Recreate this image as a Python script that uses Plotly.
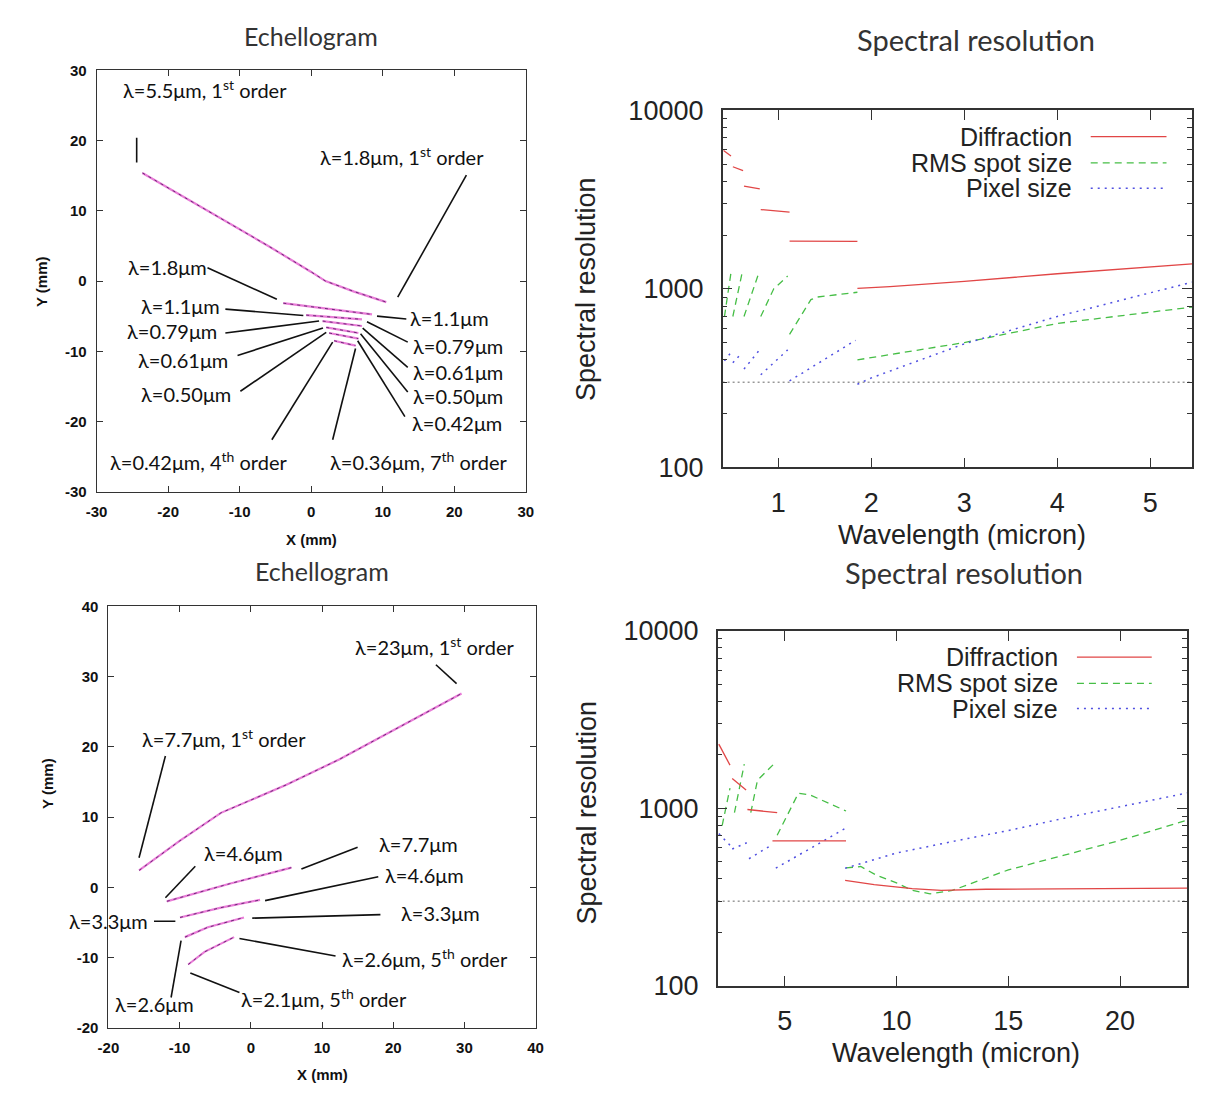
import plotly.graph_objects as go

W, H = 1206, 1103

# ---------------- Echellogram, 0.36-5.5 um channel (mm on detector) ----------------
tl_ticks = [-30, -20, -10, 0, 10, 20, 30]
tl_orders_x = [
    [-23.6, -15.0, -6.0, 0.0, 2.0, 6.0, 10.5],   # 1st order
    [-3.9, 2.3, 8.5],                            # 2nd order
    [-0.7, 3.2, 7.1],                            # 3rd order
    [1.6, 4.4, 7.1],                             # 4th order
    [2.1, 4.4, 6.6],                             # 5th order
    [2.5, 4.6, 6.6],                             # 6th order
    [3.2, 4.7, 6.2],                             # 7th order
]
tl_orders_y = [
    [15.4, 10.3, 5.0, 1.3, 0.0, -1.5, -3.0],
    [-3.15, -3.95, -4.75],
    [-4.85, -5.15, -5.45],
    [-5.7, -6.05, -6.4],
    [-6.6, -7.0, -7.4],
    [-7.4, -7.8, -8.2],
    [-8.5, -8.85, -9.2],
]

# callout labels: text, x, y, anchor
tl_label_text = ["λ=5.5μm, 1<sup>st</sup> order", "λ=1.8μm, 1<sup>st</sup> order",
                 "λ=1.8μm", "λ=1.1μm", "λ=0.79μm", "λ=0.61μm", "λ=0.50μm",
                 "λ=0.42μm, 4<sup>th</sup> order",
                 "λ=1.1μm", "λ=0.79μm", "λ=0.61μm", "λ=0.50μm", "λ=0.42μm",
                 "λ=0.36μm, 7<sup>th</sup> order"]
tl_label_x = [-14.9, 12.7, -14.3, -12.5, -12.9, -11.3, -10.9, -15.7,
              13.6, 14.0, 14.0, 14.0, 13.8, 15.1]
tl_label_y = [27.4, 17.8, 2.0, -3.6, -7.1, -11.2, -16.1, -25.6,
              -5.3, -9.2, -13.0, -16.4, -20.2, -25.6]
tl_label_anchor = ["center", "center", "right", "right", "right", "right", "right", "center",
                   "left", "left", "left", "left", "left", "center"]
# leader lines: (x0, y0, x1, y1)
tl_leaders = [
    (-24.4, 20.4, -24.4, 16.9), (21.7, 15.1, 12.1, -2.3),
    (-14.5, 1.9, -4.8, -2.6), (-12.0, -4.0, -1.1, -4.9), (-12.0, -7.4, 1.1, -5.7),
    (-10.3, -10.6, 1.65, -6.7), (-9.9, -15.7, 2.1, -7.3), (-5.5, -22.6, 3.0, -8.7),
    (9.2, -5.0, 13.3, -5.4), (7.8, -5.8, 13.5, -8.7), (7.2, -6.7, 13.5, -12.3),
    (6.9, -7.5, 13.5, -15.8), (6.5, -8.5, 13.1, -19.3), (6.2, -9.6, 3.0, -22.6),
]

# ---------------- Echellogram, 2.1-23 um channel ----------------
bl_ticks_x = [-20, -10, 0, 10, 20, 30, 40]
bl_ticks_y = [-20, -10, 0, 10, 20, 30, 40]
bl_orders_x = [
    [-15.7, -10.0, -4.2, 5.0, 12.4, 20.0, 29.6],
    [-11.8, -3.0, 5.7],
    [-9.95, -4.2, 1.3],
    [-9.26, -6.04, -0.96],
    [-8.8, -6.5, -2.35],
]
bl_orders_y = [
    [2.4, 6.6, 10.6, 14.6, 18.2, 22.4, 27.6],
    [-2.0, 0.5, 2.8],
    [-4.3, -2.9, -1.8],
    [-7.1, -5.7, -4.3],
    [-11.0, -9.2, -7.1],
]
bl_label_text = ["λ=23μm, 1<sup>st</sup> order", "λ=7.7μm, 1<sup>st</sup> order",
                 "λ=4.6μm", "λ=7.7μm", "λ=4.6μm", "λ=3.3μm", "λ=3.3μm",
                 "λ=2.6μm, 5<sup>th</sup> order", "λ=2.1μm, 5<sup>th</sup> order", "λ=2.6μm"]
bl_label_x = [25.8, -3.7, -1.1, 23.5, 24.4, -19.95, 26.7, 24.4, 10.3, -13.5]
bl_label_y = [34.4, 21.3, 4.85, 6.2, 1.8, -4.85, -3.6, -10.1, -15.7, -16.6]
bl_leaders = [
    (26.0, 31.7, 28.9, 29.0), (-12.0, 18.7, -15.7, 4.2), (-7.8, 3.0, -12.0, -1.5),
    (7.1, 2.6, 15.0, 5.7), (2.0, -1.9, 17.9, 1.5), (-13.6, -4.85, -10.6, -4.85),
    (0.2, -4.4, 18.2, -3.9), (-1.6, -7.3, 11.9, -9.8), (-8.5, -12.2, -1.6, -15.0),
    (-9.8, -7.6, -11.2, -15.7),
]

# ---------------- Spectral resolution, 0.4-5.5 um ----------------
tr_diff_wl = [[0.41, 0.49], [0.51, 0.62], [0.63, 0.80], [0.81, 1.12], [1.12, 1.85],
              [1.85, 2.2, 3.0, 4.0, 5.45]]
tr_diff_R = [[5950, 5550], [4830, 4590], [3760, 3630], [2780, 2690], [1850, 1845],
             [1005, 1030, 1100, 1215, 1380]]
tr_rms_wl = [[0.42, 0.49], [0.51, 0.61], [0.63, 0.79], [0.81, 0.95, 1.10],
             [1.12, 1.35, 1.42, 1.85], [1.85, 3.0, 4.0, 5.45]]
tr_rms_R = [[700, 1230], [700, 1230], [700, 1230], [700, 1000, 1180],
            [556, 870, 900, 957], [400, 500, 640, 790]]
tr_pix_wl = [[0.42, 0.49], [0.51, 0.61], [0.63, 0.79], [0.81, 1.10], [1.12, 1.83],
             [1.85, 2.0, 3.0, 4.0, 5.45]]
tr_pix_R = [[395, 440], [385, 440], [355, 450], [330, 455], [305, 515],
            [292, 317, 492, 700, 1090]]

# ---------------- Spectral resolution, 2-23 um ----------------
br_diff_wl = [[2.05, 2.3, 2.55], [2.65, 3.27], [3.33, 4.66], [4.45, 7.74],
              [7.7, 9.0, 10.7, 12.0, 14.0, 23.0]]
br_diff_R = [[2300, 2000, 1750], [1470, 1270], [985, 945], [655, 655],
             [393, 372, 353, 345, 350, 355]]
br_rms_wl = [[2.2, 2.55], [2.75, 3.19], [3.48, 3.78, 4.51], [4.66, 5.61, 6.13, 7.74],
             [7.74, 8.4, 9.1, 10.0, 10.7, 11.5, 12.5, 13.5, 15.0, 17.5, 20.0, 22.9]]
br_rms_R = [[800, 1300], [945, 1775], [945, 1440, 1775], [705, 1216, 1190, 966],
            [462, 470, 420, 380, 345, 330, 345, 385, 450, 545, 660, 850]]
br_pix_wl = [[2.05, 2.55], [2.65, 3.3], [3.4, 4.4], [4.6, 7.7],
             [7.7, 10.0, 12.5, 15.0, 17.5, 20.0, 23.0]]
br_pix_R = [[720, 620], [590, 640], [520, 620], [460, 770],
            [460, 560, 650, 750, 880, 1020, 1220]]

R_LIMIT = 300
legend_names = ["Diffraction", "RMS spot size", "Pixel size"]

RED = "rgb(225,70,70)"
GREEN = "rgb(70,190,70)"
BLUE = "rgb(80,80,225)"
PINK = "rgb(232,125,215)"
PURPLE = "rgb(110,40,120)"


def join(segs):
    out = []
    for i, s in enumerate(segs):
        if i:
            out.append(None)
        out.extend(s)
    return out


def fx(px):
    return px / W


def fy(py):
    return 1 - py / H


fig = go.Figure()

# ---- echellogram traces ----
for xs, ys, ax in [(tl_orders_x, tl_orders_y, ("x", "y")), (bl_orders_x, bl_orders_y, ("x3", "y3"))]:
    fig.add_trace(go.Scatter(x=join(xs), y=join(ys), mode="lines", xaxis=ax[0], yaxis=ax[1],
                             line=dict(color=PINK, width=2.2), hoverinfo="skip"))
    fig.add_trace(go.Scatter(x=join(xs), y=join(ys), mode="lines", xaxis=ax[0], yaxis=ax[1],
                             line=dict(color=PURPLE, width=1, dash="3px,4px"), hoverinfo="skip"))

for leaders, ax in [(tl_leaders, ("x", "y")), (bl_leaders, ("x3", "y3"))]:
    lx = join([[a, c] for a, b, c, d in leaders])
    ly = join([[b, d] for a, b, c, d in leaders])
    fig.add_trace(go.Scatter(x=lx, y=ly, mode="lines", xaxis=ax[0], yaxis=ax[1],
                             line=dict(color="#111", width=1.6), hoverinfo="skip"))

ann = []
lab_font = dict(family="Lato, Noto Sans, sans-serif", size=20, color="#111")
for t, x, y, a in zip(tl_label_text, tl_label_x, tl_label_y, tl_label_anchor):
    ann.append(dict(text=t, x=x, y=y, xref="x", yref="y", xanchor=a, yanchor="middle",
                    showarrow=False, font=lab_font))
for t, x, y in zip(bl_label_text, bl_label_x, bl_label_y):
    ann.append(dict(text=t, x=x, y=y, xref="x3", yref="y3", xanchor="center", yanchor="middle",
                    showarrow=False, font=lab_font))

# ---- spectral resolution traces ----
for (dwl, dR, rwl, rR, pwl, pR, xr, ax) in [
    (tr_diff_wl, tr_diff_R, tr_rms_wl, tr_rms_R, tr_pix_wl, tr_pix_R, [0.4, 5.45], ("x2", "y2")),
    (br_diff_wl, br_diff_R, br_rms_wl, br_rms_R, br_pix_wl, br_pix_R, [2, 23], ("x4", "y4")),
]:
    fig.add_trace(go.Scatter(x=xr, y=[R_LIMIT, R_LIMIT], mode="lines", xaxis=ax[0], yaxis=ax[1],
                             line=dict(color="#666", width=1, dash="2px,3px"), hoverinfo="skip"))
    fig.add_trace(go.Scatter(x=join(rwl), y=join(rR), mode="lines", xaxis=ax[0], yaxis=ax[1],
                             line=dict(color=GREEN, width=1.3, dash="7px,5px"), hoverinfo="skip"))
    fig.add_trace(go.Scatter(x=join(pwl), y=join(pR), mode="lines", xaxis=ax[0], yaxis=ax[1],
                             line=dict(color=BLUE, width=1.5, dash="2px,5px"), hoverinfo="skip"))
    fig.add_trace(go.Scatter(x=join(dwl), y=join(dR), mode="lines", xaxis=ax[0], yaxis=ax[1],
                             line=dict(color=RED, width=1.3), hoverinfo="skip"))

# ---- layout ----
ech_tick = dict(family="Liberation Sans, Arial, sans-serif", size=15, color="#111", weight="bold")
spec_tick = dict(family="Liberation Sans, Arial, sans-serif", size=27, color="#222")


def ech_axis(domain, rng, ticks, anchor):
    return dict(domain=domain, range=rng, tickvals=ticks, ticktext=[str(t) for t in ticks],
                anchor=anchor, showline=True, linecolor="#333", linewidth=1, mirror="ticks",
                ticks="inside", ticklen=6, tickcolor="#333", showgrid=False, zeroline=False,
                tickfont=ech_tick, ticklabelstandoff=6)


minor_vals = [v * m for m in (100, 1000) for v in range(2, 10)]


def spec_y(domain, anchor):
    return dict(domain=domain, type="log", range=[2, 4], tickvals=[100, 1000, 10000],
                ticktext=["100", "1000", "10000"], anchor=anchor, showline=True,
                linecolor="#333", linewidth=1.5, mirror="ticks", ticks="inside", ticklen=10,
                tickcolor="#333", showgrid=False, zeroline=False, tickfont=spec_tick,
                ticklabelstandoff=12,
                minor=dict(tickvals=minor_vals, ticks="inside", ticklen=5, tickcolor="#333"))


def spec_x(domain, rng, tickvals, anchor):
    return dict(domain=domain, range=rng, tickvals=tickvals, anchor=anchor, showline=True,
                linecolor="#333", linewidth=1.5, mirror="ticks", ticks="inside", ticklen=10,
                tickcolor="#333", showgrid=False, zeroline=False, tickfont=spec_tick,
                ticklabelstandoff=10)


layout = dict(
    width=W, height=H, margin=dict(l=0, r=0, t=0, b=0), showlegend=False,
    plot_bgcolor="white", paper_bgcolor="white",
    xaxis=ech_axis([fx(87), fx(523)], [-30, 30], tl_ticks, "y"),
    yaxis=ech_axis([fy(490), fy(57)], [-30, 30], tl_ticks, "x"),
    xaxis2=spec_x([fx(723), fx(1200)], [0.4, 5.45], [1, 2, 3, 4, 5], "y2"),
    yaxis2=spec_y([fy(465), fy(98)], "x2"),
    xaxis3=ech_axis([fx(99), fx(533)], [-20, 40], bl_ticks_x, "y3"),
    yaxis3=ech_axis([fy(1041), fy(608)], [-20, 40], bl_ticks_y, "x3"),
    xaxis4=spec_x([fx(718), fx(1195)], [2, 23], [5, 10, 15, 20], "y4"),
    yaxis4=spec_y([fy(998), fy(633)], "x4"),
)

ech_title_font = dict(family="Lato, Noto Sans, sans-serif", size=25, color="#333")
spec_title_font = dict(family="Lato, Noto Sans, sans-serif", size=29, color="#333")
axis_title_ech = dict(family="Liberation Sans, Arial, sans-serif", size=15, color="#111")
axis_title_spec = dict(family="Liberation Sans, Arial, sans-serif", size=27, color="#222")
key_font = dict(family="Liberation Sans, Arial, sans-serif", size=25, color="#222")


def paper_text(text, px, py, font, angle=0, xanchor="center"):
    return dict(text=text, x=fx(px), y=fy(py), xref="paper", yref="paper", showarrow=False,
                xanchor=xanchor, yanchor="middle", font=font, textangle=angle)


ann += [
    paper_text("Echellogram", 305, 22, ech_title_font),
    paper_text("Spectral resolution", 980, 25, spec_title_font),
    paper_text("Echellogram", 316, 572, ech_title_font),
    paper_text("Spectral resolution", 968, 573, spec_title_font),
    paper_text("<b>X (mm)</b>", 305, 539, axis_title_ech),
    paper_text("<b>Y (mm)</b>", 31, 274, axis_title_ech, angle=-90),
    paper_text("<b>X (mm)</b>", 316, 1089, axis_title_ech),
    paper_text("<b>Y (mm)</b>", 37, 790, axis_title_ech, angle=-90),
    paper_text("Wavelength (micron)", 966, 535, axis_title_spec),
    paper_text("Spectral resolution", 585, 282, axis_title_spec, angle=-90),
    paper_text("Wavelength (micron)", 960, 1067, axis_title_spec),
    paper_text("Spectral resolution", 585, 820, axis_title_spec, angle=-90),
]

# hand-placed key inside each resolution panel
shapes = []
key_styles = [dict(color=RED, width=1.3), dict(color=GREEN, width=1.3, dash="7px,5px"),
              dict(color=BLUE, width=1.5, dash="2px,5px")]
for text_right, line_x0, line_x1, rows in [(1080, 1097, 1174, (125, 152, 178)),
                                            (1066, 1083, 1159, (660, 687, 713))]:
    for name, row, style in zip(legend_names, rows, key_styles):
        ann.append(paper_text(name, text_right, row, key_font, xanchor="right"))
        shapes.append(dict(type="line", xref="paper", yref="paper", x0=fx(line_x0), x1=fx(line_x1),
                           y0=fy(row), y1=fy(row), line=style))

layout["annotations"] = ann
layout["shapes"] = shapes
fig.update_layout(**layout)
fig.write_html("out.html")
